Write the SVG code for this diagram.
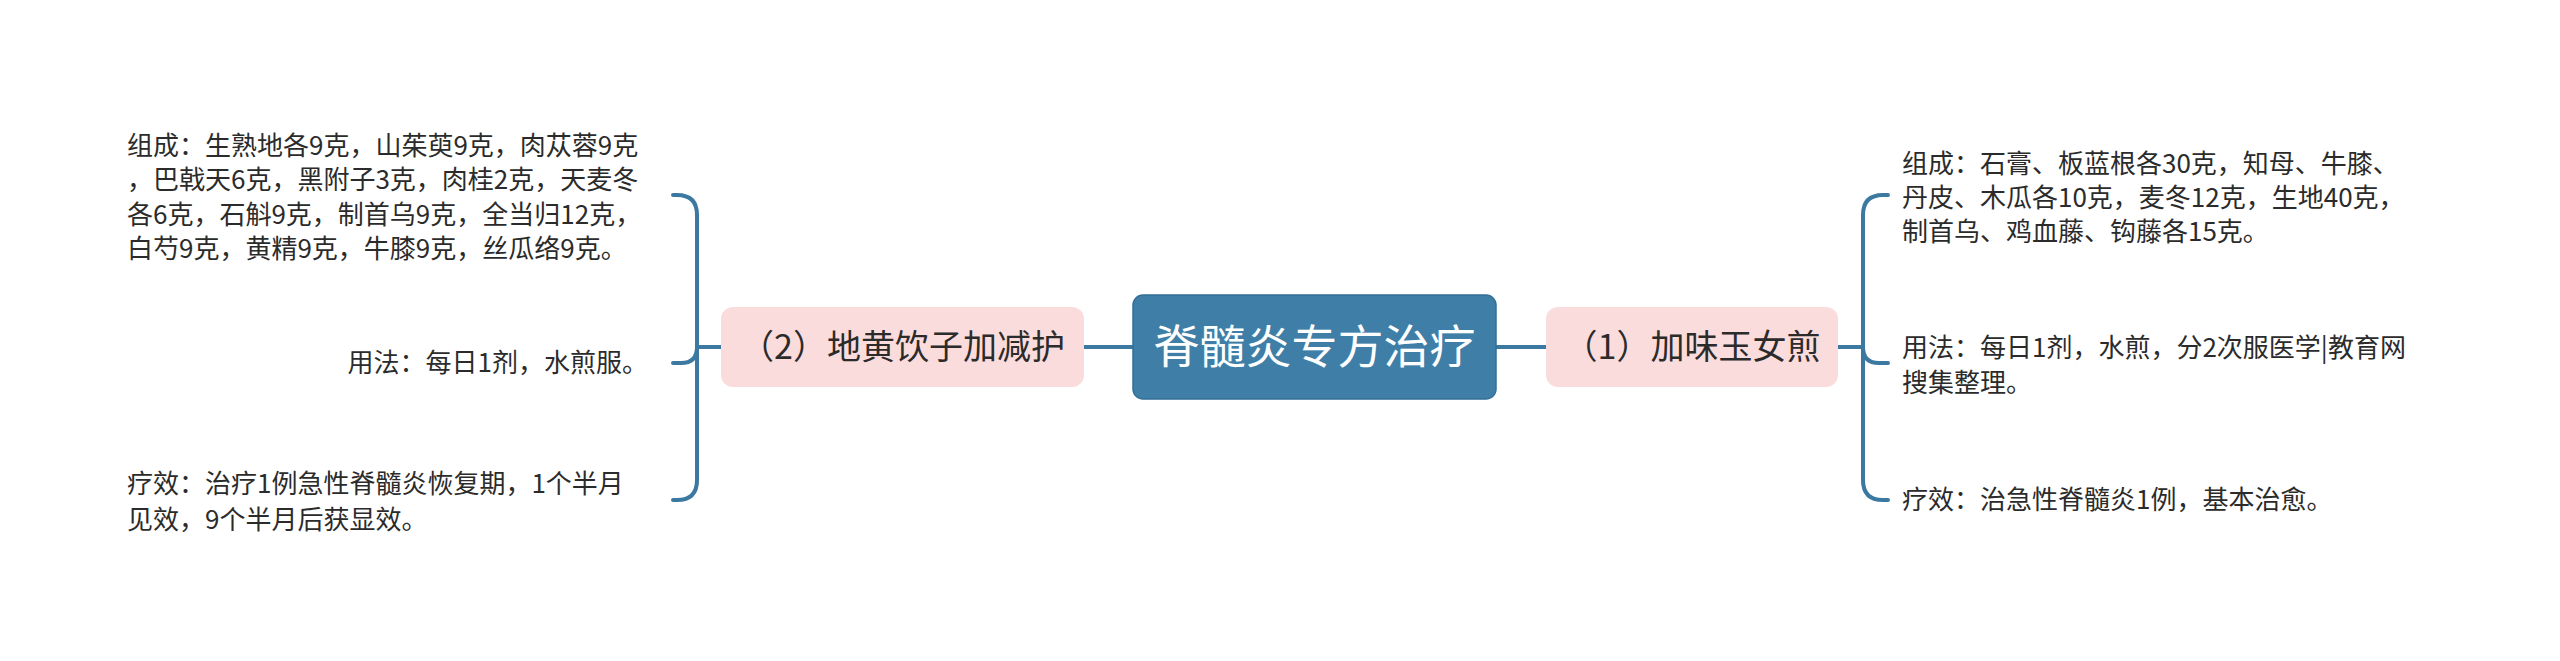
<svg xmlns="http://www.w3.org/2000/svg" width="2560" height="661" viewBox="0 0 2560 661">
<style>
.bg{fill:#ffffff}
.line{fill:none;stroke:#3b79a1;stroke-width:4;stroke-linecap:round}
.root{fill:#3f7fa7;stroke:#336f96;stroke-width:1.5}
.roott{font-family:"Noto Sans CJK SC","Noto Sans",sans-serif;font-size:46px;fill:#ffffff;text-anchor:middle}
.sub{fill:#fbdcdc}
.subt{font-family:"Noto Sans CJK SC","Noto Sans",sans-serif;font-size:34px;fill:#2b2b2b;text-anchor:middle}
.t{font-family:"Noto Sans CJK SC","Noto Sans",sans-serif;font-size:26px;fill:#2b2b2b}
</style>
<rect class="bg" x="0" y="0" width="2560" height="661"/>
<g id="connectors">
<path class="line" d="M1133,347 H1084"/>
<path class="line" d="M1496,347 H1546"/>
<path class="line" d="M721,347 H697"/>
<path class="line" d="M697,347 V215 Q697,195 677,195 H673"/>
<path class="line" d="M697,347 Q697,363 681,363 H673"/>
<path class="line" d="M697,347 V480 Q697,500 677,500 H673"/>
<path class="line" d="M1838,347 H1863"/>
<path class="line" d="M1863,347 V215 Q1863,195 1883,195 H1888"/>
<path class="line" d="M1863,347 Q1863,363 1879,363 H1888"/>
<path class="line" d="M1863,347 V480 Q1863,500 1883,500 H1888"/>
</g>
<g id="root">
<rect class="root" x="1133" y="295" width="363" height="104" rx="10"/>
<text class="roott" x="1314.5" y="363">脊髓炎专方治疗</text>
</g>
<g id="node-left">
<rect class="sub" x="721" y="307" width="363" height="80" rx="12"/>
<text class="subt" x="902.5" y="359">（2）地黄饮子加减护</text>
</g>
<g id="node-right">
<rect class="sub" x="1546" y="307" width="292" height="80" rx="12"/>
<text class="subt" x="1692" y="359">（1）加味玉女煎</text>
</g>
<g id="left-composition">
<text class="t" x="127" y="155">组成：生熟地各9克，山茱萸9克，肉苁蓉9克</text>
<text class="t" x="127" y="189">，巴戟天6克，黑附子3克，肉桂2克，天麦冬</text>
<text class="t" x="127" y="224">各6克，石斛9克，制首乌9克，全当归12克，</text>
<text class="t" x="127" y="258">白芍9克，黄精9克，牛膝9克，丝瓜络9克。</text>
</g>
<g id="left-usage">
<text class="t" x="648" y="372" text-anchor="end">用法：每日1剂，水煎服。</text>
</g>
<g id="left-effect">
<text class="t" x="127" y="493">疗效：治疗1例急性脊髓炎恢复期，1个半月</text>
<text class="t" x="127" y="529">见效，9个半月后获显效。</text>
</g>
<g id="right-composition">
<text class="t" x="1902" y="173">组成：石膏、板蓝根各30克，知母、牛膝、</text>
<text class="t" x="1902" y="207">丹皮、木瓜各10克，麦冬12克，生地40克，</text>
<text class="t" x="1902" y="241">制首乌、鸡血藤、钩藤各15克。</text>
</g>
<g id="right-usage">
<text class="t" x="1902" y="357">用法：每日1剂，水煎，分2次服医学|教育网</text>
<text class="t" x="1902" y="392">搜集整理。</text>
</g>
<g id="right-effect">
<text class="t" x="1902" y="509">疗效：治急性脊髓炎1例，基本治愈。</text>
</g>
</svg>
